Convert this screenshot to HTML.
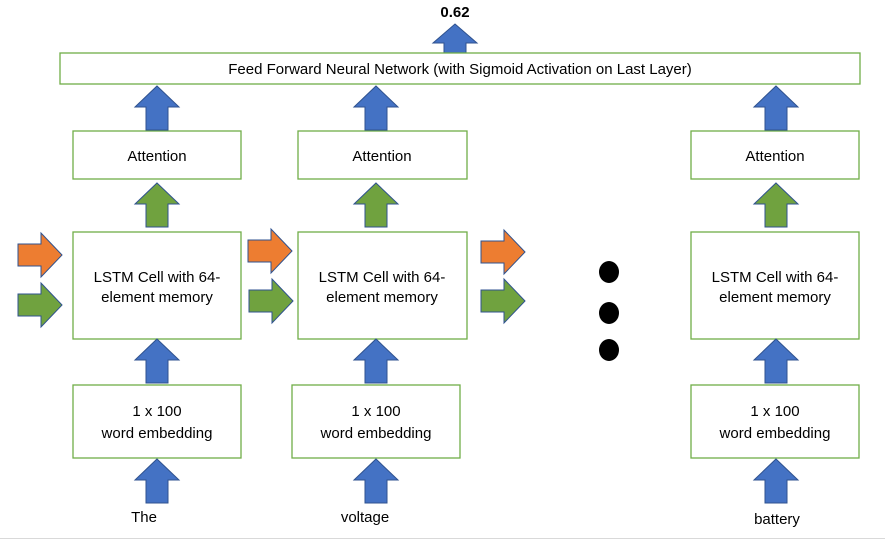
<!DOCTYPE html>
<html><head><meta charset="utf-8"><style>
html,body{margin:0;padding:0;background:#fff;}
svg{display:block;}
text{font-family:"Liberation Sans",sans-serif;font-size:15px;fill:#000;}
</style></head><body>
<svg width="885" height="540" viewBox="0 0 885 540" xmlns="http://www.w3.org/2000/svg">
<defs>
<g id="up"><polygon points="0,0 22,21 11,21 11,44 -11,44 -11,21 -22,21" stroke="#2F528F" stroke-width="1"/></g>
<g id="right"><polygon points="44,22 23,0 23,11 0,11 0,33 23,33 23,44" stroke="#2F528F" stroke-width="1"/></g>
</defs>
<polygon points="455,24 477,43 466,43 466,53 444,53 444,43 433,43" fill="#4472C4" stroke="#2F528F" stroke-width="1"/>
<g fill="#fff" stroke="#70AD47" stroke-width="1.3">
<rect x="60" y="53" width="800" height="31"/>
<rect x="73" y="131" width="168" height="48"/>
<rect x="298" y="131" width="169" height="48"/>
<rect x="691" y="131" width="168" height="48"/>
<rect x="73" y="232" width="168" height="107"/>
<rect x="298" y="232" width="169" height="107"/>
<rect x="691" y="232" width="168" height="107"/>
<rect x="73" y="385" width="168" height="73"/>
<rect x="292" y="385" width="168" height="73"/>
<rect x="691" y="385" width="168" height="73"/>
</g>
<g fill="#4472C4">
<use href="#up" x="157" y="86"/>
<use href="#up" x="376" y="86"/>
<use href="#up" x="776" y="86"/>
<use href="#up" x="157" y="339"/>
<use href="#up" x="376" y="339"/>
<use href="#up" x="776" y="339"/>
<use href="#up" x="157" y="459"/>
<use href="#up" x="376" y="459"/>
<use href="#up" x="776" y="459"/>
</g>
<g fill="#70A23F">
<use href="#up" x="157" y="183"/>
<use href="#up" x="376" y="183"/>
<use href="#up" x="776" y="183"/>
<use href="#right" x="18" y="283"/>
<use href="#right" x="249" y="279"/>
<use href="#right" x="481" y="279"/>
</g>
<g fill="#ED7D31">
<use href="#right" x="18" y="233"/>
<use href="#right" x="248" y="229"/>
<use href="#right" x="481" y="230"/>
</g>
<ellipse cx="609" cy="272" rx="10" ry="11"/>
<ellipse cx="609" cy="313" rx="10" ry="11"/>
<ellipse cx="609" cy="350" rx="10" ry="11"/>
<g text-anchor="middle">
<text x="455" y="17" font-weight="bold">0.62</text>
<text x="460" y="74">Feed Forward Neural Network (with Sigmoid Activation on Last Layer)</text>
<text x="157" y="161">Attention</text>
<text x="382" y="161">Attention</text>
<text x="775" y="161">Attention</text>
<text x="157" y="282">LSTM Cell with 64-</text>
<text x="157" y="302">element memory</text>
<text x="382" y="282">LSTM Cell with 64-</text>
<text x="382" y="302">element memory</text>
<text x="775" y="282">LSTM Cell with 64-</text>
<text x="775" y="302">element memory</text>
<text x="157" y="416">1 x 100</text>
<text x="157" y="438">word embedding</text>
<text x="376" y="416">1 x 100</text>
<text x="376" y="438">word embedding</text>
<text x="775" y="416">1 x 100</text>
<text x="775" y="438">word embedding</text>
<text x="144" y="522">The</text>
<text x="365" y="522">voltage</text>
<text x="777" y="524">battery</text>
</g>
<line x1="0" y1="538.5" x2="885" y2="538.5" stroke="#d9d9d9" stroke-width="1"/>
</svg>
</body></html>
